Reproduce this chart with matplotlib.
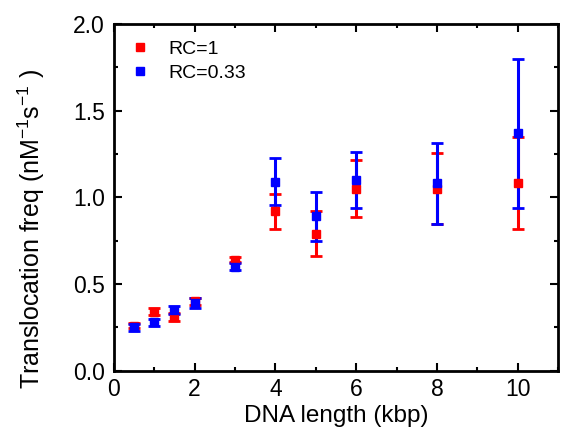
import matplotlib.pyplot as plt
from matplotlib.ticker import MultipleLocator

plt.rcParams['font.family'] = ['Liberation Sans', 'DejaVu Sans']
plt.rcParams['mathtext.default'] = 'regular'

length = [0.5, 1, 1.5, 2, 3, 4, 5, 6, 8, 10]

rc1_freq = [0.26, 0.34, 0.31, 0.40, 0.64, 0.92, 0.79, 1.05, 1.05, 1.08]
rc1_err = [0.015, 0.02, 0.025, 0.02, 0.015, 0.10, 0.13, 0.165, 0.205, 0.265]

rc033_freq = [0.25, 0.28, 0.35, 0.39, 0.60, 1.09, 0.89, 1.10, 1.08, 1.37]
rc033_err = [0.02, 0.02, 0.025, 0.03, 0.02, 0.135, 0.14, 0.16, 0.235, 0.43]

fig = plt.figure(figsize=(5.61, 4.41), dpi=100)
ax = fig.add_axes([0.203, 0.159, 0.792, 0.787])

ax.errorbar(length, rc1_freq, yerr=rc1_err, fmt='none', ecolor='red',
            elinewidth=2.2, capsize=4.3, capthick=2)
ax.errorbar(length, rc033_freq, yerr=rc033_err, fmt='none', ecolor='blue',
            elinewidth=2.2, capsize=4.3, capthick=2)
ax.plot(length, rc1_freq, 's', color='red', markersize=6.3, label='RC=1')
ax.plot(length, rc033_freq, 's', color='blue', markersize=6.3, label='RC=0.33')

ax.set_xlim(0, 11)
ax.set_ylim(0, 2.0)
ax.xaxis.set_major_locator(MultipleLocator(2))
ax.xaxis.set_minor_locator(MultipleLocator(1))
ax.yaxis.set_major_locator(MultipleLocator(0.5))
ax.yaxis.set_minor_locator(MultipleLocator(0.25))
ax.yaxis.set_major_formatter(plt.FormatStrFormatter('%.1f'))

ax.tick_params(which='both', direction='in', top=True, right=True,
               labelsize=16.5, width=1.5)
ax.tick_params(which='major', length=5.5)
ax.tick_params(which='minor', length=3)
ax.tick_params(axis='y', pad=6.5)
ax.tick_params(axis='x', pad=5)
for s in ax.spines.values():
    s.set_linewidth(2)

ax.set_xlabel('DNA length (kbp)', fontsize=17.5, labelpad=3)
ax.set_ylabel('Translocation freq (nM$^{-1}$s$^{-1}$ )', fontsize=18)
ax.yaxis.set_label_coords(-0.15, 0.41)

ax.legend(loc='upper left', frameon=False, fontsize=14, handlelength=1.0,
          handletextpad=0.94, borderpad=0.4, borderaxespad=0.44,
          labelspacing=0.35)

fig.savefig('out.png', dpi=100)
